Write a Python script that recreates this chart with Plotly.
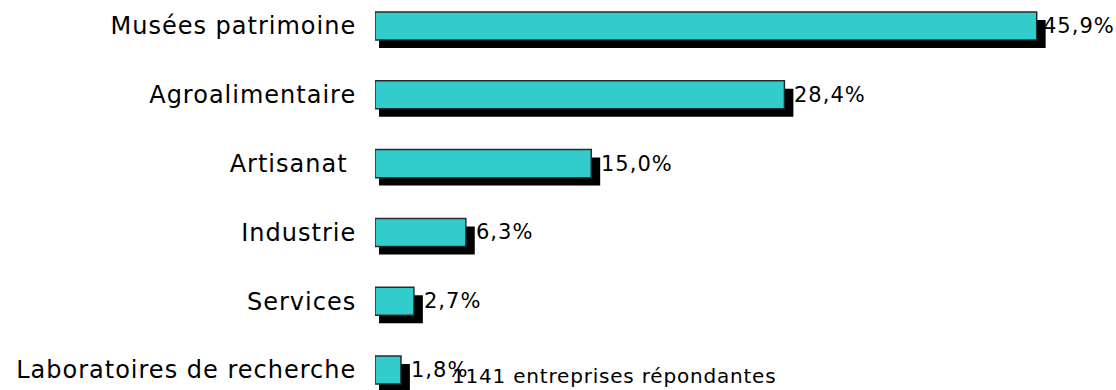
import plotly.graph_objects as go

categories = ["Musées patrimoine", "Agroalimentaire", "Artisanat\u00a0", "Industrie", "Services", "Laboratoires de recherche"]
values = [45.9, 28.4, 15.0, 6.3, 2.7, 1.8]
value_labels = ["45,9%", "28,4%", "15,0%", "6,3%", "2,7%", "1,8%"]
footnote = "1141 entreprises répondantes"

positions = list(range(len(categories)))
bar_w = 0.407
shadow_dy = 0.116
shadow_dx_left = 0.28
shadow_dx_right = 0.62


def spaced(s, px):
    return f"<span style='letter-spacing:{px}px'>{s}</span>"


fig = go.Figure()
# shadow
fig.add_trace(go.Bar(
    y=positions, x=[v + shadow_dx_right - shadow_dx_left for v in values],
    base=shadow_dx_left, orientation="h", width=bar_w, offset=-bar_w / 2 + shadow_dy,
    marker=dict(color="black", line=dict(width=0)), hoverinfo="skip", showlegend=False,
))
# main bars
fig.add_trace(go.Bar(
    y=positions, x=values, orientation="h", width=bar_w, offset=-bar_w / 2,
    marker=dict(color="#33CCCC", line=dict(color="#2a2a2a", width=1.5)),
    showlegend=False,
))

for i, (p, v, t) in enumerate(zip(positions, values, value_labels)):
    fig.add_annotation(x=v, y=p, xref="x", yref="y", text=spaced(t, 1), showarrow=False,
                       xanchor="left", yanchor="middle", xshift=4 if i == 0 else 8, yshift=0,
                       font=dict(family="DejaVu Sans", size=21, color="black"))

fig.add_annotation(x=(450 - 375) / 741, y=0.036, xref="paper", yref="paper", text=spaced(footnote, 0.8),
                   showarrow=False, xanchor="left", yanchor="middle",
                   font=dict(family="DejaVu Sans", size=20, color="black"))

fig.update_layout(
    width=1116, height=390,
    margin=dict(l=375, r=0, t=0, b=0),
    paper_bgcolor="white", plot_bgcolor="white",
    barmode="overlay",
    font=dict(family="DejaVu Sans", color="black"),
    xaxis=dict(range=[0, 51.4], visible=False, showgrid=False, zeroline=False),
    yaxis=dict(range=[5.29, -0.378], tickmode="array", tickvals=positions,
               ticktext=[spaced(c, 1) for c in categories],
               showgrid=False, zeroline=False, showline=False,
               ticks="outside", ticklen=13, tickcolor="rgba(0,0,0,0)",
               tickfont=dict(family="DejaVu Sans", size=24, color="black")),
)

fig.write_html("out.html")
